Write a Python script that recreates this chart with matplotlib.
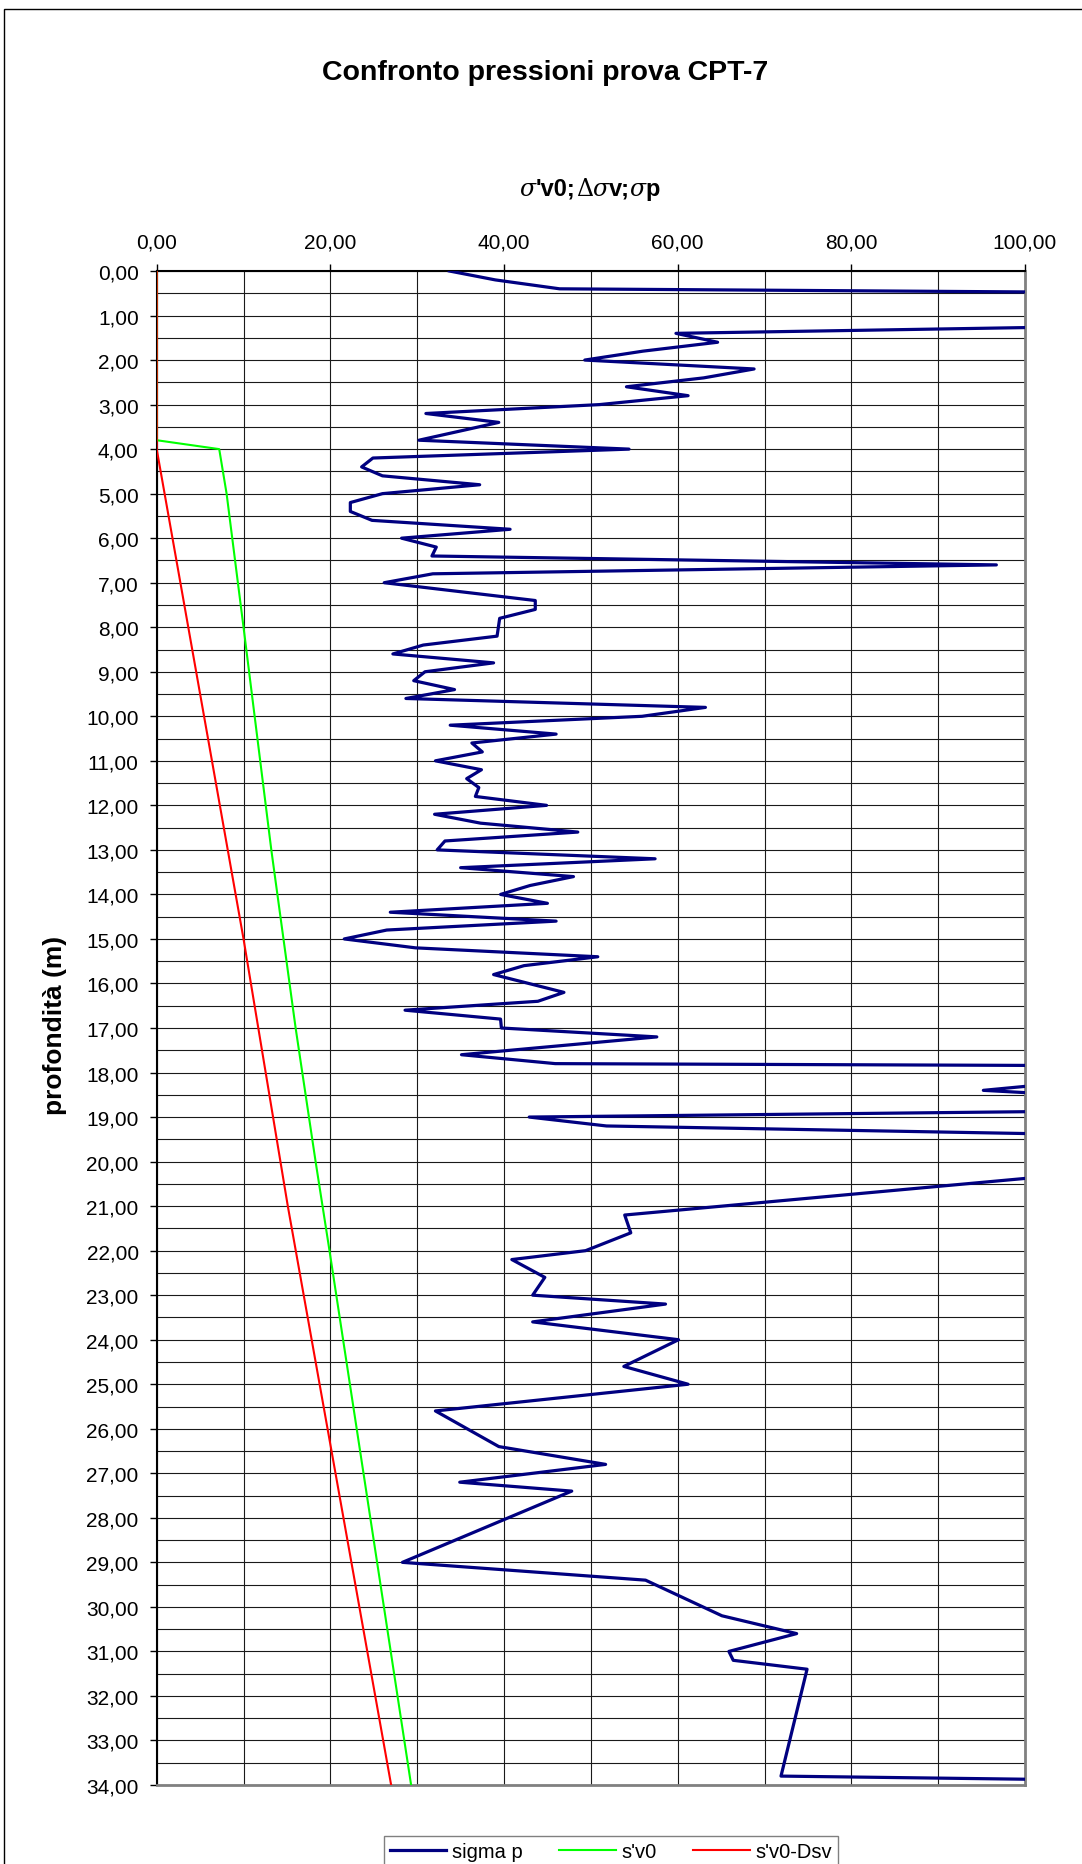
import matplotlib
matplotlib.use("Agg")
import matplotlib.pyplot as plt
from matplotlib.ticker import MultipleLocator, FuncFormatter
from matplotlib.transforms import IdentityTransform
from matplotlib.patches import Rectangle

plt.rcParams['font.family'] = ['Liberation Sans', 'DejaVu Sans']

# sigma p (kPa) against depth (m)
depth_sp = [0.0, 0.2, 0.4, 0.6, 0.8, 1.0, 1.2, 1.4, 1.6, 1.8, 2.0, 2.2, 2.4, 2.6, 2.8,
            3.0, 3.2, 3.4, 3.8, 4.0, 4.2, 4.4, 4.6, 4.8, 5.0, 5.2, 5.4, 5.6, 5.8,
            6.0, 6.2, 6.4, 6.6, 6.8, 7.0, 7.4, 7.6, 7.8, 8.2, 8.4, 8.6, 8.8, 9.0,
            9.2, 9.4, 9.6, 9.8, 10.0, 10.2, 10.4, 10.6, 10.8, 11.0, 11.2, 11.4,
            11.6, 11.8, 12.0, 12.2, 12.4, 12.6, 12.8, 13.0, 13.2, 13.4, 13.6, 13.8,
            14.0, 14.2, 14.4, 14.6, 14.8, 15.0, 15.2, 15.4, 15.6, 15.8, 16.2, 16.4,
            16.6, 16.8, 17.0, 17.2, 17.6, 17.8, 18.0, 18.2, 18.4, 18.6, 18.8, 19.0,
            19.2, 19.4, 19.6, 19.8, 20.0, 20.2, 21.2, 21.6, 22.0, 22.2, 22.6, 23.0,
            23.2, 23.6, 24.0, 24.6, 25.0, 25.6, 26.4, 26.8, 27.2, 27.4, 29.0, 29.4,
            30.2, 30.6, 31.0, 31.2, 31.4, 33.8, 34.0]
sigma_p = [33.7, 39.0, 46.4, 200.0, 240.0, 210.0, 122.0, 59.8, 64.6, 56.0, 49.3, 68.8, 63.0, 54.1, 61.2,
           51.0, 31.0, 39.4, 30.2, 54.4, 24.9, 23.6, 26.0, 37.2, 26.0, 22.3, 22.3, 24.8, 40.7,
           28.2, 32.2, 31.7, 96.7, 31.8, 26.2, 43.6, 43.6, 39.5, 39.2, 30.7, 27.2, 38.8, 30.9,
           29.6, 34.3, 28.7, 63.2, 55.9, 33.8, 46.0, 36.3, 37.5, 32.1, 37.4, 35.7,
           37.1, 36.7, 44.9, 32.0, 37.3, 48.5, 33.2, 32.3, 57.4, 35.0, 48.0, 43.0,
           39.6, 45.0, 26.9, 46.0, 26.5, 21.6, 29.8, 50.8, 42.3, 38.8, 46.9, 43.9,
           28.6, 39.6, 39.7, 57.6, 35.1, 45.9, 316.0, 106.0, 95.2, 114.0, 138.0, 42.9,
           51.8, 108.5, 160.0, 180.0, 140.0, 110.0, 53.9, 54.6, 49.4, 40.9, 44.7, 43.3,
           58.6, 43.3, 60.1, 53.8, 61.2, 32.1, 39.4, 51.7, 34.9, 47.8, 28.3, 56.3,
           65.1, 73.7, 65.9, 66.4, 74.9, 71.9, 152.0]

# s'v0 against depth
depth_sv0 = [0.0, 3.8, 4.0, 5.0, 8.0, 13.0, 17.0, 20.0, 22.0, 28.0, 34.0]
sv0 = [0.0, 0.0, 7.2, 8.05, 10.0, 13.2, 16.0, 18.3, 19.9, 24.6, 29.3]

# s'v0 - Dsv against depth
depth_dsv = [0.0, 4.0, 9.5, 15.0, 21.0, 34.0]
sv0_dsv = [0.0, 0.0, 5.0, 10.0, 15.1, 27.0]

W, H = 1082, 1865
fig = plt.figure(figsize=(W / 100, H / 100), dpi=100)
ax = fig.add_axes([156.7 / W, 1 - 1786 / H, (1025 - 156.7) / W, (1786 - 272) / H])

# outer chart frame
fig.add_artist(Rectangle((4 / W, -0.01), 1.05, 1 - 10 / H + 0.01, transform=fig.transFigure,
                         fill=False, ec='black', lw=1.0))

l1, = ax.plot(sigma_p, depth_sp, color='#000080', lw=2.3, label='sigma p', zorder=3)
l2, = ax.plot(sv0, depth_sv0, color='#00ff00', lw=1.5, label="s'v0", zorder=3)
l3, = ax.plot(sv0_dsv, depth_dsv, color='#ff0000', lw=1.5, label="s'v0-Dsv", zorder=3)

ax.set_xlim(0, 100)
ax.set_ylim(34, 0)
ax.xaxis.tick_top()
ax.xaxis.set_major_locator(MultipleLocator(20))
ax.xaxis.set_minor_locator(MultipleLocator(10))
ax.yaxis.set_major_locator(MultipleLocator(1))
ax.yaxis.set_minor_locator(MultipleLocator(0.5))
fmt = FuncFormatter(lambda v, p: f"{v:.2f}".replace('.', ','))
ax.xaxis.set_major_formatter(fmt)
ax.yaxis.set_major_formatter(fmt)
ax.tick_params(which='major', direction='out', length=5, width=1, labelsize=15, color='black')
ax.tick_params(which='minor', length=0)
ax.tick_params(axis='x', pad=9)
ax.tick_params(axis='y', pad=8)
ax.set_axisbelow(True)
ax.grid(which='both', color='#1a1a1a', lw=0.8)

for s in ('top', 'left'):
    ax.spines[s].set_color('black')
    ax.spines[s].set_linewidth(1.5)
for s in ('right', 'bottom'):
    ax.spines[s].set_color('#808080')
    ax.spines[s].set_linewidth(2)

fig.text(545 / W, 1 - 73 / H, 'Confronto pressioni prova CPT-7', ha='center', va='center',
         fontsize=20.5, fontweight='bold')

fig.text(55 / W, 1 - 1025 / H, 'profondità (m)', ha='center', va='center', rotation=90,
         fontsize=19, fontweight='bold')

# x axis title built from pieces with mixed fonts
pieces = [("σ", dict(family='DejaVu Serif', style='italic')),
          ("'v0;", dict(weight='bold')),
          ("Δ", dict(family='DejaVu Serif')),
          ("σ", dict(family='DejaVu Serif', style='italic')),
          ("v;", dict(weight='bold')),
          ("σ", dict(family='DejaVu Serif', style='italic')),
          ("p", dict(weight='bold'))]
renderer = fig.canvas.get_renderer()
base_y = H - 196
texts = []
x = 0.0
for s, kw in pieces:
    t = fig.text(x, base_y, s, transform=IdentityTransform(), ha='left', va='baseline',
                 fontsize=17, **kw)
    w = t.get_window_extent(renderer).width
    texts.append((t, x))
    x += w
start = 590 - x / 2
for t, off in texts:
    t.set_x(start + off)

leg = fig.legend(handles=[l1, l2, l3], loc='upper center', bbox_to_anchor=(611 / W, 1 - 1837 / H),
                 ncol=3, fontsize=14.5, frameon=True, fancybox=False, edgecolor='#808080',
                 framealpha=1, handlelength=2.8, handletextpad=0.3, columnspacing=1.8,
                 borderpad=0.3, borderaxespad=0)
leg.get_frame().set_linewidth(1.0)

fig.savefig('out.png', dpi=100)
